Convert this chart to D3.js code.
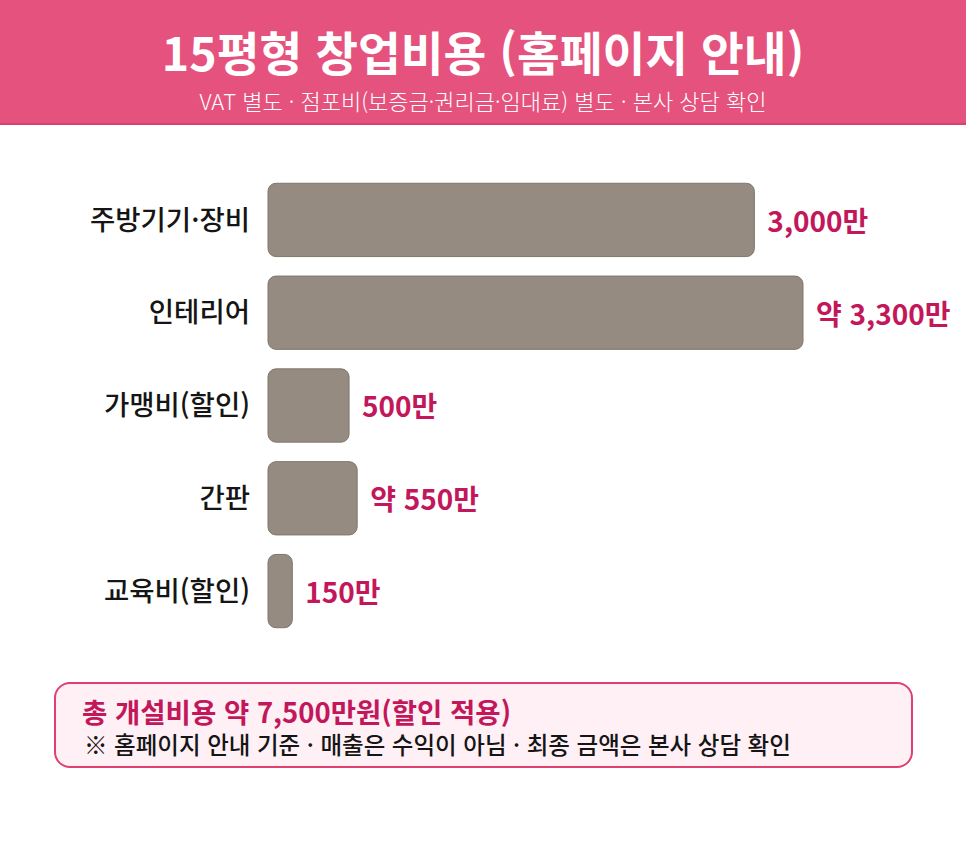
<!DOCTYPE html>
<html lang="ko">
<head>
<meta charset="UTF-8" />
<title>15평형 창업비용</title>
<script src="https://d3js.org/d3.v7.min.js"></script>
<style>
  body { margin: 0; background: #fff; }
  svg { display: block; font-family: "Noto Sans CJK KR", "Noto Sans", sans-serif; }
</style>
</head>
<body>
<svg width="966" height="841"></svg>
<script>
// 데이터
const categories = ["주방기기·장비", "인테리어", "가맹비(할인)", "간판", "교육비(할인)"];
const values = [3000, 3300, 500, 550, 150];
const valueLabels = ["3,000만", "약 3,300만", "500만", "약 550만", "150만"];

const titleText = "15평형 창업비용 (홈페이지 안내)";
const subtitleText = "VAT 별도 · 점포비(보증금·권리금·임대료) 별도 · 본사 상담 확인";
const noteTitle = "총 개설비용 약 7,500만원(할인 적용)";
const noteText = "※ 홈페이지 안내 기준 · 매출은 수익이 아님 · 최종 금액은 본사 상담 확인";

const width = 966;
const svg = d3.select("svg");

// 헤더
svg.append("rect").attr("x", 0).attr("y", 0).attr("width", width).attr("height", 125)
  .attr("fill", "#e5527d");
svg.append("rect").attr("x", 0).attr("y", 123).attr("width", width).attr("height", 2)
  .attr("fill", "#d8426f");
svg.append("text").attr("x", width / 2).attr("y", 71)
  .attr("text-anchor", "middle").attr("fill", "#fff")
  .attr("font-size", 46.5).attr("font-weight", 700)
  .text(titleText);
svg.append("text").attr("x", width / 2).attr("y", 110)
  .attr("text-anchor", "middle").attr("fill", "#fff")
  .attr("font-size", 22).attr("font-weight", 300)
  .text(subtitleText);

// 스케일
const x = d3.scaleLinear().domain([0, 3300]).range([268, 803]);
const y = d3.scaleBand().domain(categories).range([174, 637]).paddingInner(0.21).paddingOuter(0.1);

const g = svg.append("g");

g.selectAll(".bar")
  .data(values)
  .join("rect")
  .attr("class", "bar")
  .attr("x", x(0))
  .attr("y", (d, i) => y(categories[i]))
  .attr("width", d => x(d) - x(0))
  .attr("height", y.bandwidth())
  .attr("rx", 8)
  .attr("fill", "#958b80")
  .attr("stroke", "#7f766c")
  .attr("stroke-width", 1);

g.selectAll(".cat")
  .data(categories)
  .join("text")
  .attr("class", "cat")
  .attr("x", 250)
  .attr("y", d => y(d) + y.bandwidth() / 2)
  .attr("dy", "0.35em")
  .attr("text-anchor", "end")
  .attr("font-size", 27.5)
  .attr("font-weight", 500)
  .attr("fill", "#151515")
  .text(d => d);

g.selectAll(".val")
  .data(values)
  .join("text")
  .attr("class", "val")
  .attr("x", d => x(d) + 13)
  .attr("y", (d, i) => y(categories[i]) + y.bandwidth() / 2 + 2)
  .attr("dy", "0.35em")
  .attr("font-size", 28)
  .attr("font-weight", 700)
  .attr("fill", "#c2185b")
  .text((d, i) => valueLabels[i]);

// 하단 안내 박스
svg.append("rect").attr("x", 55).attr("y", 683).attr("width", 857).attr("height", 84)
  .attr("rx", 15).attr("fill", "#fff0f5").attr("stroke", "#e0406f").attr("stroke-width", 2);
svg.append("text").attr("x", 82).attr("y", 723)
  .attr("font-size", 27.5).attr("font-weight", 700).attr("fill", "#c2185b")
  .text(noteTitle);
svg.append("text").attr("x", 84).attr("y", 754)
  .attr("font-size", 23.5).attr("font-weight", 500).attr("fill", "#151515")
  .text(noteText);
</script>
</body>
</html>
